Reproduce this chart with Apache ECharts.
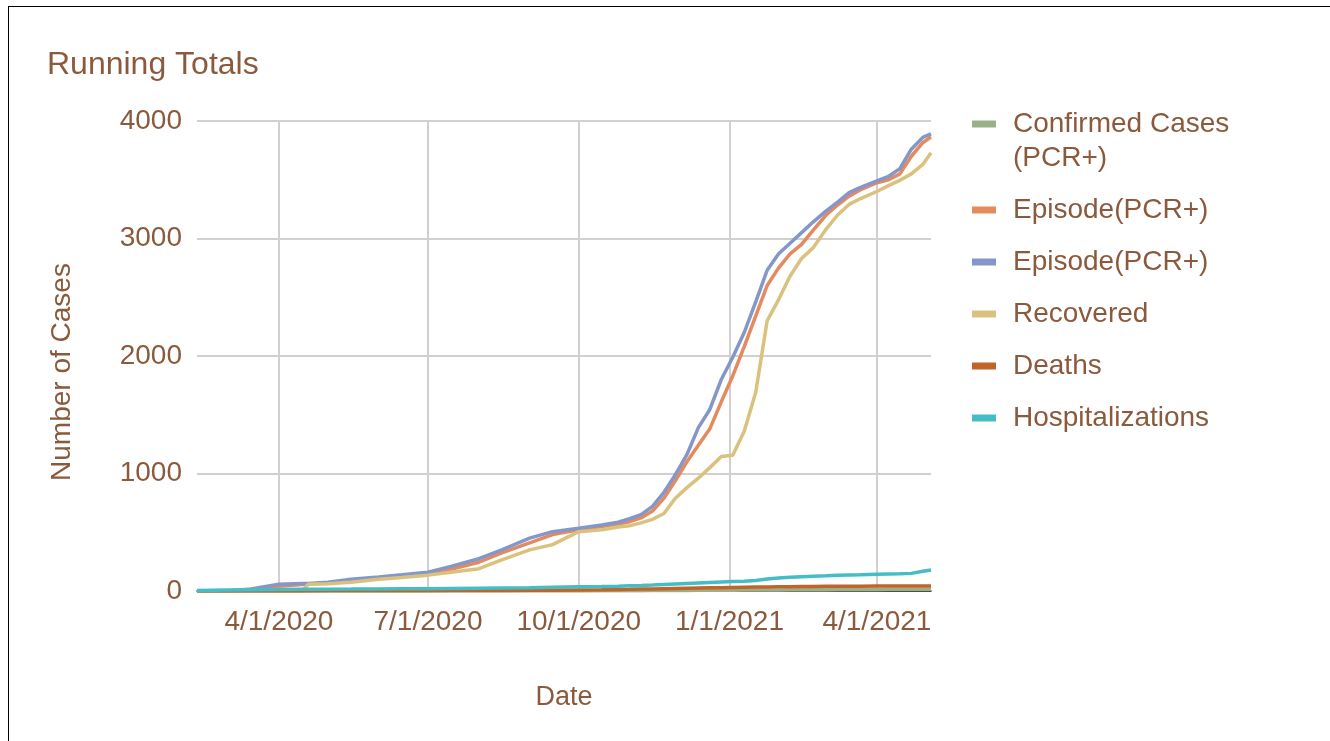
<!DOCTYPE html>
<html>
<head>
<meta charset="utf-8">
<script src="https://cdn.jsdelivr.net/npm/echarts@6/dist/echarts.min.js"></script>
<style>
  html, body { margin: 0; padding: 0; background: #fff; overflow: hidden; }
  #chart { width: 1330px; height: 741px; }
  #frame { position: absolute; left: 8px; top: 6px; width: 1400px; height: 800px;
           border: 1px solid #000; pointer-events: none; box-sizing: border-box; }
</style>
</head>
<body>
<div id="chart"></div>
<div id="frame"></div>
<script>
(function (echarts) {
    'use strict';

    const dates = [
        '2020-02-11', '2020-03-01', '2020-03-15', '2020-04-01', '2020-04-15', '2020-04-19',
        '2020-05-01', '2020-05-15', '2020-06-01', '2020-06-15', '2020-07-01', '2020-07-15',
        '2020-08-01', '2020-08-15', '2020-09-01', '2020-09-15', '2020-10-01', '2020-10-15',
        '2020-10-25', '2020-11-01', '2020-11-08', '2020-11-15', '2020-11-22', '2020-11-29',
        '2020-12-06', '2020-12-13', '2020-12-20', '2020-12-27', '2021-01-03', '2021-01-10',
        '2021-01-17', '2021-01-24', '2021-01-31', '2021-02-07', '2021-02-14', '2021-02-21',
        '2021-03-01', '2021-03-08', '2021-03-15', '2021-03-22', '2021-04-01', '2021-04-08',
        '2021-04-15', '2021-04-22', '2021-04-29', '2021-05-04'
    ];

    const confirmed = [
        0, 0, 0, 0, 0, 0, 0, 0, 0, 0, 0, 0, 0, 0, 0, 0, 1, 2, 2, 3, 3, 4, 4, 5,
        5, 6, 6, 7, 7, 8, 8, 9, 9, 10, 10, 11, 11, 12, 12, 13, 13, 14, 14, 15, 15, 15
    ];
    const episodeA = [
        0, 0, 5, 40, 56, 58, 70, 92, 112, 128, 148, 185, 245, 325, 410, 480, 522, 548,
        570, 590, 622, 680, 790, 940, 1100, 1240, 1380, 1610, 1830, 2080, 2340, 2600,
        2750, 2870, 2950, 3070, 3200, 3285, 3360, 3415, 3475, 3500, 3550, 3700, 3815, 3865
    ];
    const episodeB = [
        0, 0, 17, 57, 63, 64, 75, 100, 120, 138, 160, 210, 275, 350, 450, 505, 534, 562,
        585, 615, 650, 720, 840, 990, 1160, 1390, 1545, 1800, 1990, 2200, 2460, 2730,
        2870, 2960, 3050, 3140, 3235, 3310, 3390, 3435, 3490, 3528, 3595, 3760, 3860, 3890
    ];
    const recovered = [
        0, 0, 0, 0, 0, 58, 62, 75, 100, 115, 135, 160, 190, 265, 350, 395, 505, 522,
        545, 555, 580, 610, 660, 790, 880, 960, 1050, 1145, 1155, 1360, 1690, 2300,
        2480, 2680, 2830, 2920, 3080, 3200, 3290, 3340, 3400, 3450, 3495, 3550, 3630, 3730
    ];
    const deaths = [
        0, 0, 0, 1, 1, 1, 2, 2, 3, 3, 3, 4, 4, 5, 6, 7, 9, 11, 13, 14, 16, 18, 20, 22,
        24, 26, 27, 28, 30, 32, 34, 35, 36, 37, 38, 39, 40, 40, 41, 41, 42, 42, 42, 43, 43, 43
    ];
    const hospitalizations = [
        5, 8, 10, 12, 14, 14, 15, 16, 18, 19, 20, 22, 24, 26, 28, 32, 36, 38, 41, 44,
        47, 51, 56, 60, 64, 68, 72, 76, 80, 84, 90, 102, 110, 118, 122, 126, 130, 134,
        137, 139, 142, 144, 146, 150, 168, 178
    ];

    const xMin = '2020-02-11';
    const xMax = '2021-05-04';
    const xTicks = ['2020-04-01', '2020-07-01', '2020-10-01', '2021-01-01', '2021-04-01'];

    const textColor = '#8b5a3c';
    const font = "'Liberation Sans', Arial, sans-serif";

    const toTime = s => {
        const p = s.split('-');
        return new Date(+p[0], +p[1] - 1, +p[2]).getTime();
    };
    const fmtDate = v => {
        const d = new Date(v);
        return (d.getMonth() + 1) + '/' + d.getDate() + '/' + d.getFullYear();
    };
    const pairs = values => dates.map((d, i) => [toTime(d), values[i]]);

    // name, values, colour (second "Episode" name has a trailing space so the legend keeps both)
    const seriesDefs = [
        ['Confirmed Cases\n(PCR+)', confirmed, '#9bb088'],
        ['Episode(PCR+)', episodeA, '#e38a5f'],
        ['Episode(PCR+) ', episodeB, '#8497c8'],
        ['Recovered', recovered, '#dbc17e'],
        ['Deaths', deaths, '#c0652a'],
        ['Hospitalizations', hospitalizations, '#44bdc6']
    ];

    const tickTimes = xTicks.map(toTime);

    // legend text is centred on its icon, so the two-line entry gets a blank first line
    // to keep the icon level with "Confirmed Cases"
    const legendText = name => name.indexOf('\n') >= 0 ? '\u00a0\n' + name : name.trim();

    const chart = echarts.init(document.getElementById('chart'));
    chart.setOption({
        animation: false,
        textStyle: { fontFamily: font },
        title: {
            text: 'Running Totals',
            left: 42,
            top: 44,
            textStyle: { color: textColor, fontSize: 32, fontWeight: 'normal', fontFamily: font }
        },
        legend: {
            orient: 'vertical',
            left: 972,
            top: 73,
            padding: 0,
            itemWidth: 24,
            itemHeight: 7,
            itemGap: 18,
            icon: 'rect',
            formatter: legendText,
            textStyle: { color: textColor, fontSize: 28, lineHeight: 34, padding: [0, 0, 0, 12], fontFamily: font },
            data: seriesDefs.map(s => s[0])
        },
        grid: { left: 197, right: 399, top: 121, bottom: 150 },
        xAxis: {
            // plain value axis in milliseconds, so the quarter ticks can be listed
            type: 'value',
            min: toTime(xMin),
            max: toTime(xMax),
            name: 'Date',
            nameLocation: 'middle',
            nameGap: 93,
            nameTextStyle: { color: textColor, fontSize: 27, fontFamily: font },
            axisLine: { show: true, lineStyle: { color: '#222', width: 1.5 } },
            axisTick: { show: false, customValues: tickTimes },
            axisLabel: {
                customValues: tickTimes,
                formatter: fmtDate,
                color: textColor,
                fontSize: 28,
                margin: 17,
                fontFamily: font
            },
            splitLine: { show: true, lineStyle: { color: '#d0d0d0', width: 2 } }
        },
        yAxis: {
            type: 'value',
            min: 0,
            max: 4000,
            interval: 1000,
            name: 'Number of Cases',
            nameLocation: 'middle',
            nameGap: 121,
            nameTextStyle: { color: textColor, fontSize: 28, fontFamily: font, padding: [0, 32, 0, 0] },
            axisLine: { show: false },
            axisTick: { show: false },
            axisLabel: { color: textColor, fontSize: 28, margin: 15, fontFamily: font, formatter: v => String(v) },
            splitLine: { lineStyle: { color: '#d0d0d0', width: 2 } }
        },
        series: seriesDefs.map(s => ({
            name: s[0],
            type: 'line',
            data: pairs(s[1]),
            showSymbol: false,
            symbol: 'none',
            color: s[2],
            lineStyle: { width: 3.5, color: s[2] }
        }))
    });
})(echarts);
</script>
</body>
</html>
